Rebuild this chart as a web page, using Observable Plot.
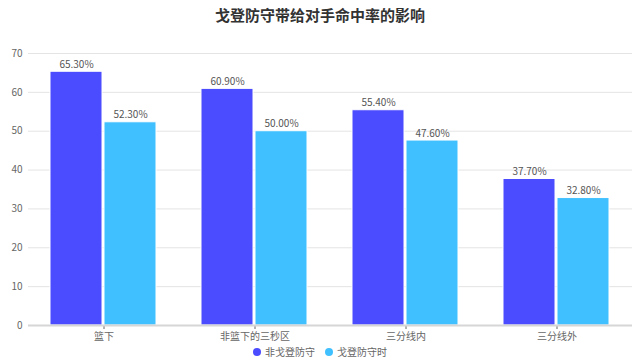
<!DOCTYPE html>
<html><head><meta charset="utf-8">
<script src="https://cdn.jsdelivr.net/npm/d3@7"></script>
<script src="https://cdn.jsdelivr.net/npm/@observablehq/plot@0.6"></script>
<style>
body{margin:0;background:#fff;font-family:"Noto Sans CJK SC","Noto Sans",sans-serif;}
#wrap{width:640px;height:364px;position:relative;overflow:hidden;}
#title{height:30px;line-height:30px;text-align:center;font-size:15px;font-weight:bold;color:#333;}
#legend{position:absolute;top:344px;left:0;width:640px;text-align:center;font-size:10px;color:#666;height:16px;line-height:16px;}
#legend span.item{margin:0 5px;}
#legend i{display:inline-block;width:8px;height:8px;border-radius:50%;margin-right:4px;vertical-align:0px;}
</style></head>
<body><div id="wrap"><div id="title">戈登防守带给对手命中率的影响</div><div id="chart"></div><div id="legend"></div></div>
<script>
const categories = ["篮下", "非篮下的三秒区", "三分线内", "三分线外"];
const seriesNames = ["非戈登防守", "戈登防守时"];
const nonGordon = [65.3, 60.9, 55.4, 37.7];
const gordon = [52.3, 50.0, 47.6, 32.8];
const colors = ["#4b4bff", "#40c0ff"];
const yTicks = [0, 10, 20, 30, 40, 50, 60, 70];

const data = [];
categories.forEach((c, i) => {
  data.push({cat: c, series: seriesNames[0], value: nonGordon[i]});
  data.push({cat: c, series: seriesNames[1], value: gordon[i]});
});

const chart = Plot.plot({
  width: 640,
  height: 315,
  marginLeft: 26,
  marginRight: 7,
  marginTop: 23,
  marginBottom: 20,
  style: {fontFamily: '"Noto Sans CJK SC","Noto Sans",sans-serif', fontSize: "10px", color: "#666", background: "#fff"},
  fx: {domain: categories, paddingInner: 0, paddingOuter: 0, label: null, axis: "bottom", tickSize: 4, tickPadding: 3},
  x: {domain: seriesNames, paddingInner: 0.03, paddingOuter: 0.40, axis: null},
  y: {domain: [0, 70], ticks: yTicks, label: null, tickSize: 0, tickPadding: 6},
  color: {domain: seriesNames, range: colors},
  marks: [
    Plot.ruleY(yTicks.filter(d => d > 0), {stroke: "#e4e4e4", strokeWidth: 1}),
    Plot.barY(data, {fx: "cat", x: "series", y: "value", fill: "series", stroke: "#fff", strokeWidth: 1}),
    Plot.ruleY([0], {stroke: "#d6d6d6", strokeWidth: 2}),
    Plot.text(data, {fx: "cat", x: "series", y: "value", text: d => d.value.toFixed(2) + "%", dy: -7, fill: "#555", fontSize: 10})
  ]
});
document.getElementById("chart").appendChild(chart);

const legend = document.getElementById("legend");
legend.innerHTML = seriesNames.map((s, i) => `<span class="item"><i style="background:${colors[i]}"></i>${s}</span>`).join("");
</script></body></html>
